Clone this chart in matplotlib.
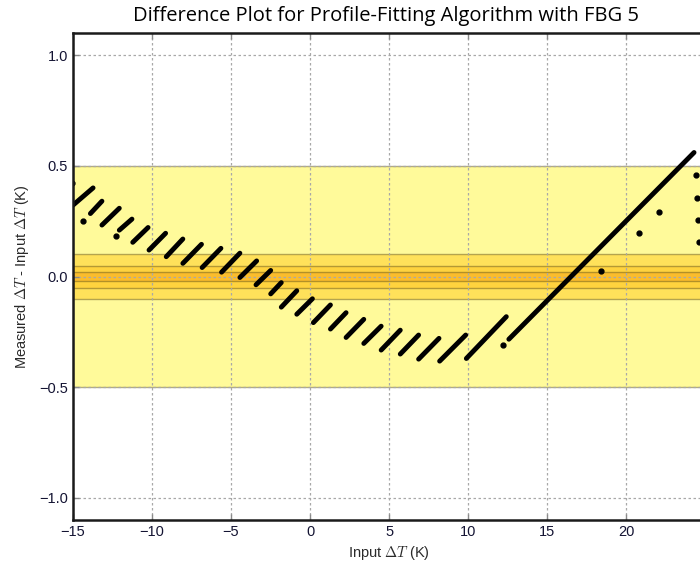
import matplotlib
matplotlib.use("Agg")
import matplotlib.pyplot as plt

# ---- data ----
seg_x_start = [-15.0, -13.9, -13.17, -12.07, -11.22, -10.19, -9.10, -8.05, -6.83, -5.60,
               -4.44, -3.42, -2.49, -1.82, -0.84, 0.21, 1.29, 2.28, 3.40, 4.50,
               5.71, 6.87, 8.20, 9.89, 12.58]
seg_x_end = [-13.73, -13.17, -12.07, -11.27, -10.25, -9.14, -8.05, -6.87, -5.64, -4.44,
             -3.38, -2.49, -1.82, -0.84, 0.15, 1.29, 2.28, 3.40, 4.50, 5.71,
             6.87, 8.16, 9.85, 12.42, 24.30]
seg_y_start = [0.323, 0.285, 0.233, 0.210, 0.155, 0.120, 0.090, 0.060, 0.041, 0.020,
               -0.004, -0.037, -0.078, -0.138, -0.170, -0.208, -0.237, -0.275, -0.302, -0.332,
               -0.350, -0.373, -0.382, -0.370, -0.283]
seg_y_end = [0.401, 0.341, 0.309, 0.260, 0.222, 0.196, 0.170, 0.146, 0.128, 0.106,
             0.071, 0.028, -0.027, -0.064, -0.100, -0.128, -0.163, -0.193, -0.224, -0.242,
             -0.264, -0.279, -0.264, -0.181, 0.561]
dot_x = [-15.04, -14.37, -12.28, 12.20, 18.41, 20.82, 22.10, 24.40, 24.46, 24.56, 24.60]
dot_y = [0.421, 0.251, 0.185, -0.310, 0.027, 0.199, 0.292, 0.458, 0.357, 0.258, 0.157]

band_half_widths = [0.5, 0.1, 0.05, 0.02]
band_colors = ["#fffa9a", "#ffe15a", "#ffd33e", "#fbbd2c"]

title = "Difference Plot for Profile-Fitting Algorithm with FBG 5"
xlabel = r"Input $\Delta T$ (K)"
ylabel = r"Measured $\Delta T$ - Input $\Delta T$ (K)"
xticks = [-15, -10, -5, 0, 5, 10, 15, 20]
yticks = [-1.0, -0.5, 0.0, 0.5, 1.0]

# ---- figure ----
plt.rcParams["font.family"] = ["Liberation Sans", "DejaVu Sans"]
plt.rcParams["mathtext.fontset"] = "cm"
fig = plt.figure(figsize=(7.0, 5.7), dpi=100)
ax = fig.add_axes([0.1043, 0.0877, 0.903, 0.854])

for hw, col in zip(band_half_widths, band_colors):
    ax.axhspan(-hw, hw, facecolor=col, edgecolor=(0.35, 0.3, 0.1, 0.45), lw=1.0, zorder=0)

for x0, x1, y0, y1 in zip(seg_x_start, seg_x_end, seg_y_start, seg_y_end):
    ax.plot([x0, x1], [y0, y1], color="black", lw=3.5, solid_capstyle="round", zorder=3)
ax.plot(dot_x, dot_y, "o", color="black", markersize=3.5, zorder=3)

ax.set_xlim(-15, 25)
ax.set_ylim(-1.1, 1.1)
ax.set_xticks(xticks)
ax.set_yticks(yticks)
ax.set_yticklabels(["\u22121.0", "\u22120.5", "0.0", "0.5", "1.0"])
ax.set_xticklabels(["\u221215", "\u221210", "\u22125", "0", "5", "10", "15", "20"])
ax.set_axisbelow(False)
ax.grid(True, color="#a8a8a8", linestyle=(0, (2, 2)), lw=0.9, zorder=1)
for gl in ax.get_xgridlines() + ax.get_ygridlines():
    gl.set_zorder(1)

ax.tick_params(direction="in", length=4, width=1, colors="#8a8a8a", labelcolor="#141433",
               labelsize=10.5, top=True, right=False)
for s in ["left", "bottom", "top"]:
    ax.spines[s].set_linewidth(1.8)
    ax.spines[s].set_color("#1a1a1a")
    ax.spines[s].set_zorder(6)
ax.spines["right"].set_visible(False)

ax.set_xlabel(xlabel, fontsize=10.5, color="#2a2a2a", labelpad=4)
ax.set_ylabel(ylabel, fontsize=10.5, color="#2a2a2a", labelpad=6)
fig.text(0.552, 0.972, title, ha="center", va="center", fontsize=14.5,
         family=["Open Sans", "DejaVu Sans"], color="black")

fig.savefig("out.png", dpi=100)
